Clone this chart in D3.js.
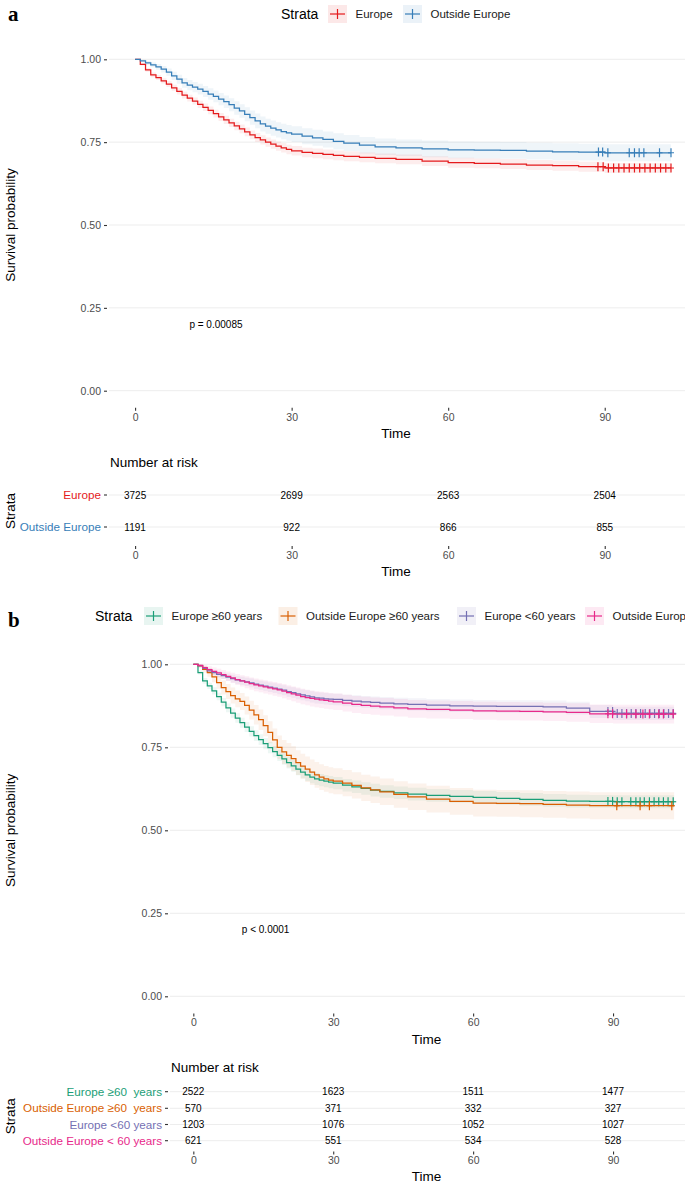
<!DOCTYPE html>
<html><head><meta charset="utf-8">
<script src="https://cdn.jsdelivr.net/npm/d3@7"></script>
<style>
body{margin:0;background:#fff}
svg{display:block}
text{font-family:"Liberation Sans",Arial,Helvetica,sans-serif}
</style>
</head><body>
<svg id="c" width="685" height="1185"></svg>
<script>
// ---------------- DATA ----------------
const timeTicks = [0, 30, 60, 90];
const yTicks = [0, 0.25, 0.5, 0.75, 1];
const timePoints = [0,1,2,3,4,5,6,7,8,9,10,11,12,13,14,15,16,17,18,19,20,21,22,23,24,25,26,27,28,29,30,
  32,34,36,38,40,43,46,50,55,60,65,70,75,80,85,90];

// Panel a
const strataA = ["Europe", "Outside Europe"];
const survEuropeA = [1.0,0.985,0.968,0.953,0.945,0.935,0.925,0.914,0.903,0.892,0.883,0.874,0.864,0.855,0.846,0.836,0.826,0.817,0.808,0.799,0.790,0.781,0.772,0.764,0.757,0.750,0.744,0.738,0.733,0.728,0.724,
  0.719,0.716,0.713,0.710,0.707,0.704,0.701,0.698,0.693,0.688,0.686,0.684,0.681,0.679,0.676,0.672];
const survOutsideA = [1.0,0.995,0.989,0.983,0.977,0.970,0.961,0.950,0.940,0.929,0.922,0.916,0.910,0.903,0.895,0.888,0.880,0.872,0.863,0.853,0.844,0.834,0.824,0.814,0.805,0.798,0.792,0.787,0.782,0.778,0.774,
  0.768,0.763,0.758,0.752,0.747,0.741,0.736,0.733,0.730,0.727,0.726,0.725,0.723,0.721,0.720,0.718];
const censorEuropeA = [88.7,89.7,90.7,91.7,92.7,93.7,94.7,95.7,96.7,97.7,98.7,99.7,100.7,101.7,102.7];
const censorOutsideA = [88.8,89.6,90.6,94.7,95.7,96.6,97.5,100.5,102.7];
const riskEuropeA = [3725, 2699, 2563, 2504];
const riskOutsideA = [1191, 922, 866, 855];
const endTimeA = 102.7;
const pValueA = "p = 0.00085";

// Panel b
const strataB = ["Europe \u226560 years", "Outside Europe \u226560 years", "Europe <60 years", "Outside Europe <60 years"];
const riskLabelsB = ["Europe \u226560  years", "Outside Europe \u226560  years", "Europe <60 years", "Outside Europe < 60 years"];
const survEurope60plus = [1.0,0.975,0.950,0.935,0.920,0.903,0.886,0.869,0.853,0.838,0.824,0.811,0.798,0.785,0.773,0.761,0.749,0.737,0.726,0.715,0.704,0.694,0.684,0.675,0.667,0.660,0.655,0.651,0.648,0.645,0.642,
  0.636,0.631,0.626,0.621,0.617,0.613,0.609,0.605,0.602,0.599,0.596,0.593,0.590,0.588,0.587,0.586];
const survOutside60plus = [1.0,0.995,0.985,0.975,0.962,0.945,0.930,0.918,0.906,0.896,0.888,0.876,0.862,0.848,0.833,0.815,0.795,0.772,0.750,0.736,0.726,0.716,0.704,0.693,0.684,0.675,0.667,0.660,0.655,0.651,0.648,
  0.642,0.635,0.628,0.622,0.616,0.608,0.601,0.594,0.587,0.582,0.581,0.580,0.578,0.576,0.574,0.574];
const survEuropeUnder60 = [1.0,0.995,0.988,0.980,0.975,0.970,0.966,0.961,0.957,0.953,0.950,0.947,0.944,0.940,0.937,0.934,0.931,0.928,0.925,0.922,0.918,0.915,0.911,0.908,0.905,0.902,0.899,0.898,0.896,0.895,0.894,
  0.891,0.889,0.887,0.885,0.883,0.881,0.879,0.877,0.875,0.874,0.873,0.873,0.872,0.868,0.858,0.852];
const survOutsideUnder60 = [1.0,0.997,0.990,0.984,0.979,0.974,0.969,0.964,0.959,0.954,0.950,0.946,0.942,0.938,0.935,0.932,0.929,0.926,0.923,0.919,0.915,0.911,0.907,0.903,0.900,0.897,0.895,0.893,0.891,0.889,0.887,
  0.883,0.879,0.876,0.874,0.872,0.869,0.866,0.864,0.862,0.860,0.859,0.858,0.857,0.855,0.851,0.850];
const censorEurope60plus = [88.9,89.9,90.9,91.9,93.8,94.9,95.8,96.7,97.8,98.8,99.8,100.8,101.8,102.9];
const censorOutside60plus = [90.8,95.8,97.8,102.6];
const censorEuropeUnder60 = [88.9,89.9,90.9,91.9,92.9,93.9,94.9,95.9,96.9,97.9,98.9,99.9,100.9,101.9,102.9];
const censorOutsideUnder60 = [88.9,89.9,92.9,94.9,96.4,97.8,99.8,100.8,102.9];
const riskEurope60plus = [2522, 1623, 1511, 1477];
const riskOutside60plus = [570, 371, 332, 327];
const riskEuropeUnder60 = [1203, 1076, 1052, 1027];
const riskOutsideUnder60 = [621, 551, 534, 528];
const endTimeB = 103.1;
const pValueB = "p < 0.0001";

const colorsA = ["#E41A1C", "#377EB8"];
const colorsB = ["#1B9E77", "#D95F02", "#7570B3", "#E7298A"];

// ---------------- DRAWING ----------------
const svg = d3.select("#c");
const X_DOMAIN = [-5, 105];
const RIGHT = 683;
let clipN = 0;

function survAt(surv, t) {
  const i = d3.bisectRight(timePoints, t) - 1;
  return surv[Math.max(0, Math.min(i, surv.length - 1))];
}

function styleAxis(g) {
  g.select(".domain").remove();
  g.selectAll(".tick line").attr("stroke", "#333").attr("stroke-width", 1.1);
  g.selectAll(".tick text").attr("fill", "#4d4d4d").style("font-size", "10.5px")
    .style("font-family", '"Liberation Sans",Arial,sans-serif');
}

function drawLegend(yc, startX, keyXs, labels, colors) {
  const g = svg.append("g");
  g.append("text").attr("x", startX).attr("y", yc).attr("dy", "0.35em")
    .style("font-size", "14px").attr("fill", "#000").text("Strata");
  labels.forEach((lab, i) => {
    const x = keyXs[i];
    g.append("rect").attr("x", x).attr("y", yc - 9).attr("width", 19).attr("height", 18)
      .attr("fill", colors[i]).attr("fill-opacity", 0.1);
    g.append("line").attr("x1", x + 2).attr("x2", x + 17).attr("y1", yc).attr("y2", yc)
      .attr("stroke", colors[i]).attr("stroke-width", 1.2);
    g.append("line").attr("x1", x + 9.5).attr("x2", x + 9.5).attr("y1", yc - 5).attr("y2", yc + 5)
      .attr("stroke", colors[i]).attr("stroke-width", 1.2);
    g.append("text").attr("x", x + 27.5).attr("y", yc).attr("dy", "0.35em")
      .style("font-size", "11.5px").attr("fill", "#1a1a1a").text(lab);
  });
}

function drawKM(o) {
  const x = d3.scaleLinear().domain(X_DOMAIN).range([o.left, RIGHT]);
  const y = d3.scaleLinear().domain([0, 1]).range([o.y0, o.y1]);
  const top = y(1.05), bottom = y(-0.05);
  const g = svg.append("g");

  g.append("g").selectAll("line").data(yTicks).join("line")
    .attr("x1", o.left).attr("x2", 690).attr("y1", d => y(d)).attr("y2", d => y(d))
    .attr("stroke", "#ebebeb").attr("stroke-width", 0.9);

  g.append("g").attr("transform", `translate(${o.left - 2},0)`)
    .call(d3.axisLeft(y).tickValues(yTicks).tickFormat(d3.format(".2f")).tickSize(3).tickPadding(3))
    .call(styleAxis);
  g.append("g").attr("transform", `translate(0,${bottom + 0.5})`)
    .call(d3.axisBottom(x).tickValues(timeTicks).tickSize(3).tickPadding(2.5))
    .call(styleAxis);

  g.append("text").attr("x", (o.left + RIGHT) / 2).attr("y", bottom + 26).attr("text-anchor", "middle")
    .attr("dy", "0.35em").style("font-size", "13.5px").text("Time");
  g.append("text").attr("transform", `translate(10,${(top + bottom) / 2}) rotate(-90)`)
    .attr("text-anchor", "middle").attr("dy", "0.35em").style("font-size", "13.5px").text("Survival probability");

  const id = "clip" + (clipN++);
  svg.append("clipPath").attr("id", id).append("rect")
    .attr("x", o.left).attr("y", top).attr("width", 700 - o.left).attr("height", bottom - top);
  const pg = g.append("g").attr("clip-path", `url(#${id})`);

  o.series.forEach((s, i) => {
    const pts = timePoints.map((t, k) => ({ t, s: s.surv[k] }));
    pts.push({ t: o.endTime, s: s.surv[s.surv.length - 1] });
    // approximate 95% pointwise band from the survival values and the initial number at risk
    const hw = d => 1.96 * Math.sqrt(d.s * (1 - d.s) / s.n0);
    pg.append("path").datum(pts)
      .attr("d", d3.area().curve(d3.curveStepAfter).x(d => x(d.t))
        .y0(d => y(Math.max(0, d.s - hw(d)))).y1(d => y(Math.min(1, d.s + hw(d)))))
      .attr("fill", o.colors[i]).attr("fill-opacity", 0.08);
  });
  o.series.forEach((s, i) => {
    const pts = timePoints.map((t, k) => ({ t, s: s.surv[k] }));
    pts.push({ t: o.endTime, s: s.surv[s.surv.length - 1] });
    pg.append("path").datum(pts)
      .attr("d", d3.line().curve(d3.curveStepAfter).x(d => x(d.t)).y(d => y(d.s)))
      .attr("fill", "none").attr("stroke", o.colors[i]).attr("stroke-width", 1.25);
    const cg = pg.append("g").attr("stroke", o.colors[i]).attr("stroke-width", 1.2);
    s.censor.forEach(t => {
      const cx = x(t), cy = y(survAt(s.surv, t));
      cg.append("line").attr("x1", cx).attr("x2", cx).attr("y1", cy - 4.5).attr("y2", cy + 4.5);
      cg.append("line").attr("x1", cx - 3).attr("x2", cx + 3).attr("y1", cy).attr("y2", cy);
    });
  });

  g.append("text").attr("x", x(15.5)).attr("y", y(0.2)).attr("text-anchor", "middle").attr("dy", "0.35em")
    .style("font-size", "10px").attr("fill", "#000").text(o.pText);
}

function drawRisk(o) {
  const x = d3.scaleLinear().domain(X_DOMAIN).range([o.left, RIGHT]);
  const g = svg.append("g");
  g.append("text").attr("x", o.left + 1).attr("y", o.titleY).attr("dy", "0.35em")
    .style("font-size", "13.5px").text("Number at risk");
  o.rows.forEach((r, i) => {
    const ry = o.rowY[i];
    g.append("line").attr("x1", o.left).attr("x2", 690).attr("y1", ry).attr("y2", ry)
      .attr("stroke", "#ebebeb").attr("stroke-width", 0.9);
    g.append("line").attr("x1", o.left - 5).attr("x2", o.left - 2).attr("y1", ry).attr("y2", ry)
      .attr("stroke", "#333").attr("stroke-width", 1.1);
    g.append("text").attr("x", o.left - 8).attr("y", ry).attr("dy", "0.35em").attr("text-anchor", "end")
      .attr("fill", o.colors[i]).style("font-size", "11.7px").style("white-space", "pre").text(o.labels[i]);
    g.selectAll(null).data(r).join("text")
      .attr("x", (d, k) => x(timeTicks[k])).attr("y", ry).attr("dy", "0.35em").attr("text-anchor", "middle")
      .style("font-size", "10px").attr("fill", "#000").text(d => d);
  });
  g.append("g").attr("transform", `translate(0,${o.axisY})`)
    .call(d3.axisBottom(x).tickValues(timeTicks).tickSize(3).tickPadding(2.5))
    .call(styleAxis);
  g.append("text").attr("x", (o.left + RIGHT) / 2).attr("y", o.axisY + 25).attr("text-anchor", "middle")
    .attr("dy", "0.35em").style("font-size", "13.5px").text("Time");
  const midY = (o.rowY[0] + o.rowY[o.rowY.length - 1]) / 2;
  g.append("text").attr("transform", `translate(10,${midY}) rotate(-90)`)
    .attr("text-anchor", "middle").attr("dy", "0.35em").style("font-size", "13.5px").text("Strata");
}

function panelLetter(t, yb) {
  svg.append("text").attr("x", 8).attr("y", yb)
    .style("font-family", '"Liberation Serif","Times New Roman",serif').style("font-weight", "bold")
    .style("font-size", "21px").text(t);
}

// ---- Panel a ----
panelLetter("a", 21);
drawLegend(14, 281, [328, 403], strataA, colorsA);
drawKM({
  left: 109, y0: 390.7, y1: 59.3, endTime: endTimeA, pText: pValueA, colors: colorsA,
  series: [
    { surv: survEuropeA, censor: censorEuropeA, n0: riskEuropeA[0] },
    { surv: survOutsideA, censor: censorOutsideA, n0: riskOutsideA[0] }
  ]
});
drawRisk({
  left: 109, titleY: 462, rowY: [495, 527], axisY: 546, colors: colorsA,
  labels: strataA, rows: [riskEuropeA, riskOutsideA]
});

// ---- Panel b ----
panelLetter("b", 627);
drawLegend(616, 95, [144, 278.5, 457, 585], strataB, colorsB);
drawKM({
  left: 170, y0: 996.3, y1: 664.3, endTime: endTimeB, pText: pValueB, colors: colorsB,
  series: [
    { surv: survEurope60plus, censor: censorEurope60plus, n0: riskEurope60plus[0] },
    { surv: survOutside60plus, censor: censorOutside60plus, n0: riskOutside60plus[0] },
    { surv: survEuropeUnder60, censor: censorEuropeUnder60, n0: riskEuropeUnder60[0] },
    { surv: survOutsideUnder60, censor: censorOutsideUnder60, n0: riskOutsideUnder60[0] }
  ]
});
drawRisk({
  left: 170, titleY: 1067, rowY: [1091.7, 1108.3, 1124.5, 1140.7], axisY: 1151.5, colors: colorsB,
  labels: riskLabelsB, rows: [riskEurope60plus, riskOutside60plus, riskEuropeUnder60, riskOutsideUnder60]
});
</script>
</body></html>
